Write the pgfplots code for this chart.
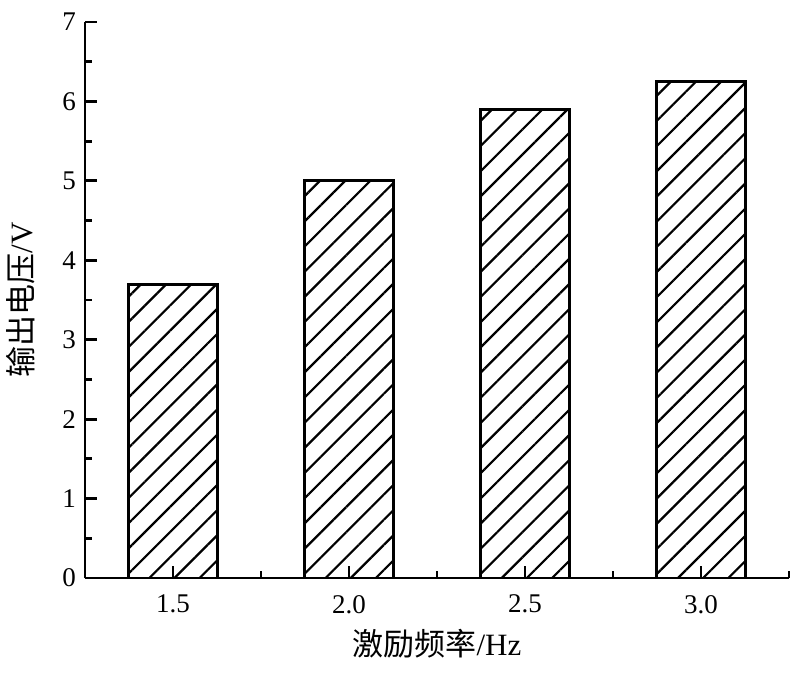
\documentclass[border=0pt]{standalone}
\usepackage{pgfplots}
\pgfplotsset{compat=1.18}
\usepackage{fontspec}
\setmainfont{Liberation Serif}
\newfontfamily\cjk{Noto Sans CJK SC}
\usetikzlibrary{patterns.meta}
\begin{document}
\begin{tikzpicture}
\begin{axis}[
  scale only axis,
  width=352pt, height=278pt,
  xmin=0.5, xmax=4.5,
  ymin=0, ymax=7,
  axis lines=left,
  axis line style={-, line width=1.4pt},
  every tick/.append style={line width=1.4pt, black},
  tick align=inside,
  major tick length=6pt,
  minor tick length=3.5pt,
  xtick={1,2,3,4},
  xticklabels={1.5,2.0,2.5,3.0},
  minor xtick={0.5,1.5,2.5,3.5,4.5},
  ytick={0,1,2,3,4,5,6,7},
  minor y tick num=1,
  /pgf/number format/assume math mode=true,
  ticklabel style={font=\fontsize{13.5}{16}\selectfont},
  xticklabel style={yshift=-5pt},
  yticklabel style={xshift=-1pt},
  xlabel={{\cjk 激励频率}/Hz},
  ylabel={{\cjk 输出电压}/V},
  label style={font=\fontsize{15.5}{18}\selectfont},
  xlabel style={yshift=-1pt},
  ylabel style={yshift=7pt},
  clip=false,
]
\addplot[ybar, bar width=44.5pt, draw=black, line width=1.4pt,
  pattern={Lines[angle=45,distance=8.9pt,line width=1.1pt]}]
  coordinates {(1,3.7) (2,5.0) (3,5.9) (4,6.25)};
\end{axis}
\pgfresetboundingbox
\path[use as bounding box] (-42.5pt,-49.5pt) rectangle (357.5pt,289pt);
\end{tikzpicture}
\end{document}
